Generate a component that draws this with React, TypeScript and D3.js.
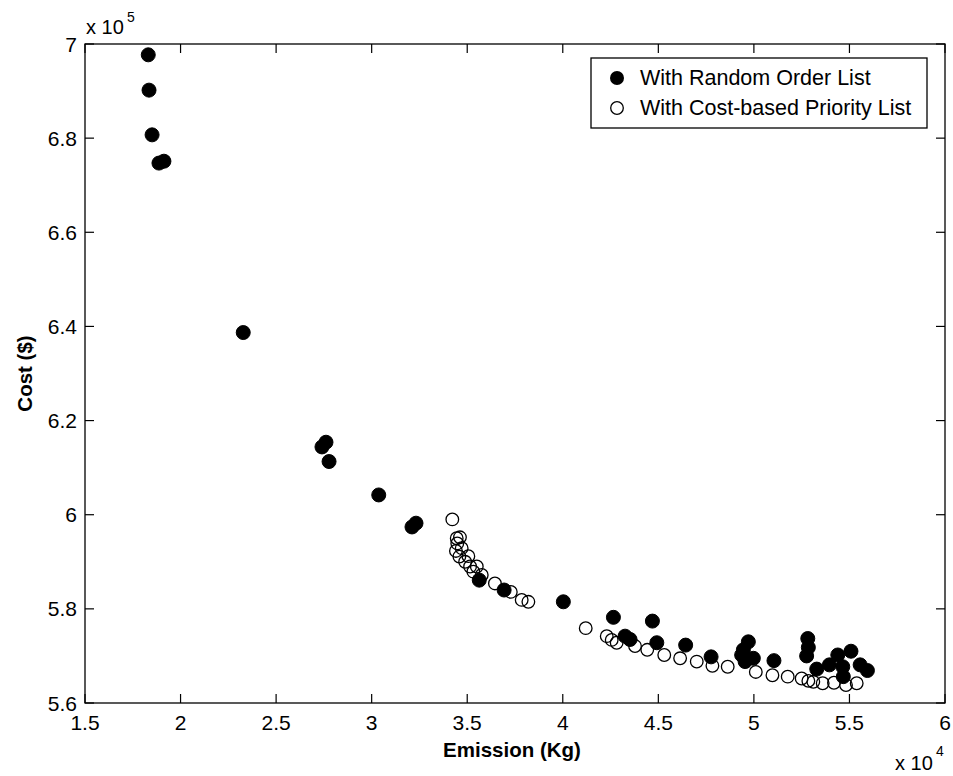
import React from "react";
import * as d3 from "d3";

// Emission (Kg), Cost ($)
const randomEmission = [18310, 18350, 18510, 18870, 19130, 23280, 27400, 27610, 27770, 30370, 32110, 32320, 35630, 36930, 40030, 42650, 44690, 43260, 43520, 44920, 46430, 47760, 49360, 49710, 49450, 49970, 49540, 51050, 52820, 52850, 52760, 53290, 53950, 54390, 54650, 54680, 55080, 55560, 55940];
const randomCost = [697700, 690200, 680700, 674700, 675100, 638700, 614400, 615400, 611300, 604200, 597400, 598200, 586100, 584000, 581500, 578200, 577400, 574200, 573500, 572800, 572300, 569800, 570200, 573000, 571300, 569500, 568800, 569000, 573700, 571800, 570000, 567200, 568100, 570200, 567700, 565600, 571000, 568100, 566900];

const priorityEmission = [34220, 34450, 34620, 34480, 34410, 34710, 34590, 35060, 34890, 35150, 35500, 35320, 35760, 36450, 37280, 37850, 38200, 41200, 42300, 42560, 42820, 43780, 44420, 45310, 46140, 47010, 47830, 48630, 50100, 50970, 51770, 52500, 52850, 53110, 53600, 54190, 54820, 55380];
const priorityCost = [599000, 595000, 595200, 593900, 592300, 592900, 591100, 591200, 590000, 589000, 589000, 587900, 587200, 585400, 583600, 581900, 581500, 575900, 574200, 573400, 572800, 572100, 571300, 570200, 569500, 568800, 567900, 567700, 566600, 565900, 565600, 565200, 564700, 564500, 564200, 564300, 563800, 564200];

const xTicks = [15000, 20000, 25000, 30000, 35000, 40000, 45000, 50000, 55000, 60000];
const yTicks = [560000, 580000, 600000, 620000, 640000, 660000, 680000, 700000];
const legendLabels = ["With Random Order List", "With Cost-based Priority List"];

const W = 953;
const H = 776;
const L = 85, R = 945, T = 44, B = 703;
const FONT = "'Liberation Sans', Arial, sans-serif";

export default function App() {
  const x = d3.scaleLinear().domain([15000, 60000]).range([L, R]);
  const y = d3.scaleLinear().domain([560000, 700000]).range([B, T]);
  const fmtX = (v: number) => d3.format("")(+(v / 1e4).toFixed(2));
  const fmtY = (v: number) => d3.format("")(+(v / 1e5).toFixed(2));
  const tickLen = 9;

  return (
    <svg width={W} height={H} style={{ position: "absolute", left: 0, top: 0, background: "#fff" }} fontFamily={FONT}>
      <rect x={0} y={0} width={W} height={H} fill="#fff" />
      {/* ticks */}
      {xTicks.map((t, i) => (
        <g key={"xt" + i}>
          <line x1={x(t)} x2={x(t)} y1={B} y2={B - tickLen} stroke="#000" strokeWidth={1.2} />
          <line x1={x(t)} x2={x(t)} y1={T} y2={T + tickLen} stroke="#000" strokeWidth={1.2} />
          <text x={x(t)} y={B + 27} fontSize={21} textAnchor="middle" fill="#000">{fmtX(t)}</text>
        </g>
      ))}
      {yTicks.map((t, i) => (
        <g key={"yt" + i}>
          <line x1={L} x2={L + tickLen} y1={y(t)} y2={y(t)} stroke="#000" strokeWidth={1.2} />
          <line x1={R} x2={R - tickLen} y1={y(t)} y2={y(t)} stroke="#000" strokeWidth={1.2} />
          <text x={77} y={y(t) + 7.5} fontSize={21} textAnchor="end" fill="#000">{fmtY(t)}</text>
        </g>
      ))}
      <rect x={L} y={T} width={R - L} height={B - T} fill="none" stroke="#000" strokeWidth={1.3} />

      {/* exponents */}
      <text x={86} y={34} fontSize={20} fill="#000">x 10</text>
      <text x={127} y={22} fontSize={14} fill="#000">5</text>
      <text x={895} y={770} fontSize={20} fill="#000">x 10</text>
      <text x={936} y={756} fontSize={14} fill="#000">4</text>

      {/* axis labels */}
      <text x={512} y={757} fontSize={20.5} fontWeight="bold" textAnchor="middle" fill="#000">Emission (Kg)</text>
      <text transform={`translate(32, ${(T + B) / 2}) rotate(-90)`} fontSize={20.5} fontWeight="bold" textAnchor="middle" fill="#000">Cost ($)</text>

      {/* data */}
      {randomEmission.map((e, i) => (
        <circle key={"r" + i} cx={x(e)} cy={y(randomCost[i])} r={7} fill="#000" stroke="#000" strokeWidth={1} />
      ))}
      {priorityEmission.map((e, i) => (
        <circle key={"p" + i} cx={x(e)} cy={y(priorityCost[i])} r={6.3} fill="none" stroke="#000" strokeWidth={1.3} />
      ))}

      {/* legend */}
      <rect x={591} y={58} width={336} height={70} fill="#fff" stroke="#000" strokeWidth={1.3} />
      <circle cx={617} cy={78} r={7} fill="#000" />
      <text x={640} y={85} fontSize={21.5} fill="#000">{legendLabels[0]}</text>
      <circle cx={617} cy={108} r={6.3} fill="none" stroke="#000" strokeWidth={1.3} />
      <text x={640} y={115} fontSize={21.5} fill="#000">{legendLabels[1]}</text>
    </svg>
  );
}
